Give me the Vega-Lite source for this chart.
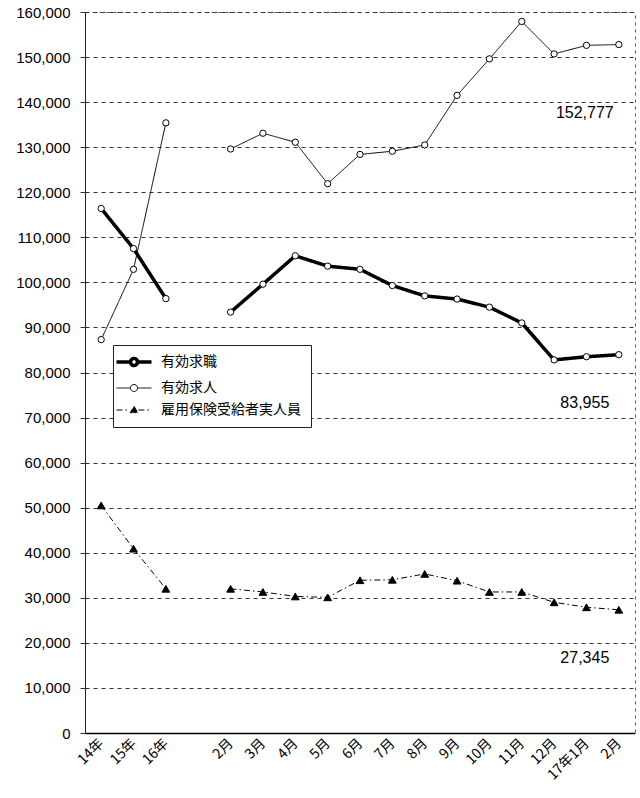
{
  "$schema": "https://vega.github.io/schema/vega-lite/v6.json",
  "autosize": {"type": "none"},
  "padding": {"left": 85, "top": 12, "right": 5, "bottom": 65},
  "width": 550,
  "height": 721,
  "background": "white",
  "config": {"view": {"stroke": "#555", "strokeDash": [3, 4]}},
  "data": {"values": [
    {"p": "14年", "s": "有効求職", "v": 116400, "g": "年"},
    {"p": "15年", "s": "有効求職", "v": 107500, "g": "年"},
    {"p": "16年", "s": "有効求職", "v": 96400, "g": "年"},
    {"p": "2月", "s": "有効求職", "v": 93400, "g": "月"},
    {"p": "3月", "s": "有効求職", "v": 99600, "g": "月"},
    {"p": "4月", "s": "有効求職", "v": 105900, "g": "月"},
    {"p": "5月", "s": "有効求職", "v": 103600, "g": "月"},
    {"p": "6月", "s": "有効求職", "v": 102900, "g": "月"},
    {"p": "7月", "s": "有効求職", "v": 99300, "g": "月"},
    {"p": "8月", "s": "有効求職", "v": 97000, "g": "月"},
    {"p": "9月", "s": "有効求職", "v": 96300, "g": "月"},
    {"p": "10月", "s": "有効求職", "v": 94500, "g": "月"},
    {"p": "11月", "s": "有効求職", "v": 91000, "g": "月"},
    {"p": "12月", "s": "有効求職", "v": 82800, "g": "月"},
    {"p": "17年1月", "s": "有効求職", "v": 83500, "g": "月"},
    {"p": "17年2月", "s": "有効求職", "v": 83955, "g": "月"},
    {"p": "14年", "s": "有効求人", "v": 87300, "g": "年"},
    {"p": "15年", "s": "有効求人", "v": 102900, "g": "年"},
    {"p": "16年", "s": "有効求人", "v": 135400, "g": "年"},
    {"p": "2月", "s": "有効求人", "v": 129600, "g": "月"},
    {"p": "3月", "s": "有効求人", "v": 133100, "g": "月"},
    {"p": "4月", "s": "有効求人", "v": 131100, "g": "月"},
    {"p": "5月", "s": "有効求人", "v": 121900, "g": "月"},
    {"p": "6月", "s": "有効求人", "v": 128400, "g": "月"},
    {"p": "7月", "s": "有効求人", "v": 129100, "g": "月"},
    {"p": "8月", "s": "有効求人", "v": 130500, "g": "月"},
    {"p": "9月", "s": "有効求人", "v": 141500, "g": "月"},
    {"p": "10月", "s": "有効求人", "v": 149600, "g": "月"},
    {"p": "11月", "s": "有効求人", "v": 157900, "g": "月"},
    {"p": "12月", "s": "有効求人", "v": 150700, "g": "月"},
    {"p": "17年1月", "s": "有効求人", "v": 152600, "g": "月"},
    {"p": "17年2月", "s": "有効求人", "v": 152777, "g": "月"},
    {"p": "14年", "s": "雇用保険受給者実人員", "v": 50500, "g": "年"},
    {"p": "15年", "s": "雇用保険受給者実人員", "v": 40900, "g": "年"},
    {"p": "16年", "s": "雇用保険受給者実人員", "v": 32000, "g": "年"},
    {"p": "2月", "s": "雇用保険受給者実人員", "v": 32000, "g": "月"},
    {"p": "3月", "s": "雇用保険受給者実人員", "v": 31300, "g": "月"},
    {"p": "4月", "s": "雇用保険受給者実人員", "v": 30300, "g": "月"},
    {"p": "5月", "s": "雇用保険受給者実人員", "v": 30100, "g": "月"},
    {"p": "6月", "s": "雇用保険受給者実人員", "v": 33900, "g": "月"},
    {"p": "7月", "s": "雇用保険受給者実人員", "v": 34000, "g": "月"},
    {"p": "8月", "s": "雇用保険受給者実人員", "v": 35300, "g": "月"},
    {"p": "9月", "s": "雇用保険受給者実人員", "v": 33800, "g": "月"},
    {"p": "10月", "s": "雇用保険受給者実人員", "v": 31300, "g": "月"},
    {"p": "11月", "s": "雇用保険受給者実人員", "v": 31300, "g": "月"},
    {"p": "12月", "s": "雇用保険受給者実人員", "v": 29000, "g": "月"},
    {"p": "17年1月", "s": "雇用保険受給者実人員", "v": 27900, "g": "月"},
    {"p": "17年2月", "s": "雇用保険受給者実人員", "v": 27345, "g": "月"}
  ]},
  "encoding": {
    "x": {
      "field": "p", "type": "nominal",
      "scale": {"type": "point", "padding": 0.5, "domain": ["14年", "15年", "16年", "_", "2月", "3月", "4月", "5月", "6月", "7月", "8月", "9月", "10月", "11月", "12月", "17年1月", "17年2月"]},
      "axis": {
        "title": null, "labelAngle": -45, "labelAlign": "right", "labelBaseline": "middle",
        "labelExpr": "datum.value == '17年2月' ? '2月' : (datum.value == '_' ? '' : datum.value)",
        "labelFont": "Noto Sans CJK JP", "labelFontSize": 14, "labelColor": "black", "labelPadding": 8,
        "ticks": false, "domainColor": "black", "domainWidth": 1.5, "grid": false
      }
    },
    "y": {
      "field": "v", "type": "quantitative",
      "scale": {"domain": [0, 160000], "nice": false},
      "axis": {
        "title": null, "values": [0, 10000, 20000, 30000, 40000, 50000, 60000, 70000, 80000, 90000, 100000, 110000, 120000, 130000, 140000, 150000, 160000],
        "format": ",d", "labelFont": "Liberation Sans", "labelFontSize": 15, "labelColor": "black",
        "tickSize": 5, "tickColor": "#333", "labelPadding": 10,
        "domainColor": "#222", "grid": true, "gridColor": "#333", "gridDash": [4, 4], "gridWidth": 1
      }
    }
  },
  "layer": [
    {
      "transform": [{"filter": "datum.s === '有効求職'"}],
      "mark": {"type": "line", "color": "black", "strokeWidth": 3.5},
      "encoding": {
        "detail": {"field": "g"},
        "strokeDash": {
          "field": "s", "type": "nominal",
          "scale": {"domain": ["有効求職", "有効求人", "雇用保険受給者実人員"], "range": [[1, 0], [1, 0], [6, 3, 1.5, 3]]},
          "legend": {
            "orient": "none", "legendX": 28, "legendY": 333, "title": null,
            "symbolSize": 625, "labelOffset": 24, "rowPadding": 8, "padding": 10,
            "strokeColor": "#222", "fillColor": "white",
            "labelFont": "Noto Sans CJK JP", "labelFontSize": 14, "labelColor": "black",
            "encoding": {
              "symbols": {
                "shape": {"value": {"expr": "datum.value === '雇用保険受給者実人員' ? 'M-1.08,0H-0.03M0.67,0H1.72M0.32,-0.3L0.62,0.22L0.02,0.22Z' : 'M-1.08,0H0.04M0.6,0H1.72M0.6,0A0.28,0.28,0,1,1,0.04,0A0.28,0.28,0,1,1,0.6,0'"}},
                "fill": {"value": {"expr": "datum.value === '雇用保険受給者実人員' ? 'black' : 'white'"}},
                "strokeWidth": {"value": {"expr": "datum.value === '有効求職' ? 3.5 : 1"}},
                "stroke": {"value": "black"},
                "size": {"value": 625},
                "opacity": {"value": 1},
                "fillOpacity": {"value": 1}
              }
            }
          }
        }
      }
    },
    {
      "transform": [{"filter": "datum.s !== '有効求職'"}],
      "mark": {"type": "line", "color": "black", "strokeWidth": 1},
      "encoding": {
        "detail": {"field": "g"},
        "strokeDash": {
          "field": "s", "type": "nominal",
          "scale": {"domain": ["有効求職", "有効求人", "雇用保険受給者実人員"], "range": [[1, 0], [1, 0], [6, 3, 1.5, 3]]}
        }
      }
    },
    {
      "transform": [{"filter": "datum.s !== '雇用保険受給者実人員'"}],
      "mark": {"type": "point", "shape": "circle", "size": 40, "stroke": "black", "strokeWidth": 1, "fill": "white", "filled": true, "opacity": 1}
    },
    {
      "transform": [{"filter": "datum.s === '雇用保険受給者実人員'"}],
      "mark": {"type": "point", "shape": "triangle-up", "size": 60, "stroke": "black", "strokeWidth": 1, "fill": "black", "filled": true, "opacity": 1}
    },
    {
      "transform": [{"filter": "datum.s === '有効求人' && datum.p === '17年2月'"}],
      "mark": {"type": "text", "dx": -34, "dy": 68, "font": "Liberation Sans", "fontSize": 16, "color": "black"},
      "encoding": {"text": {"field": "v", "type": "quantitative", "format": ","}}
    },
    {
      "transform": [{"filter": "datum.s !== '有効求人' && datum.p === '17年2月'"}],
      "mark": {"type": "text", "dx": -34, "dy": 48, "font": "Liberation Sans", "fontSize": 16, "color": "black"},
      "encoding": {"text": {"field": "v", "type": "quantitative", "format": ","}}
    },
    {
      "data": {"values": [{"t": "有効求職・求人・雇用保険受給者実人員の推移"}]},
      "mark": {"type": "text", "font": "Noto Sans CJK JP", "fontSize": 23, "fontWeight": "bold", "color": "black", "align": "center", "baseline": "alphabetic", "dx": -15, "dy": -9},
      "encoding": {
        "x": {"datum": "6月"},
        "y": {"datum": 160000},
        "text": {"field": "t", "type": "nominal"}
      }
    }
  ]
}
